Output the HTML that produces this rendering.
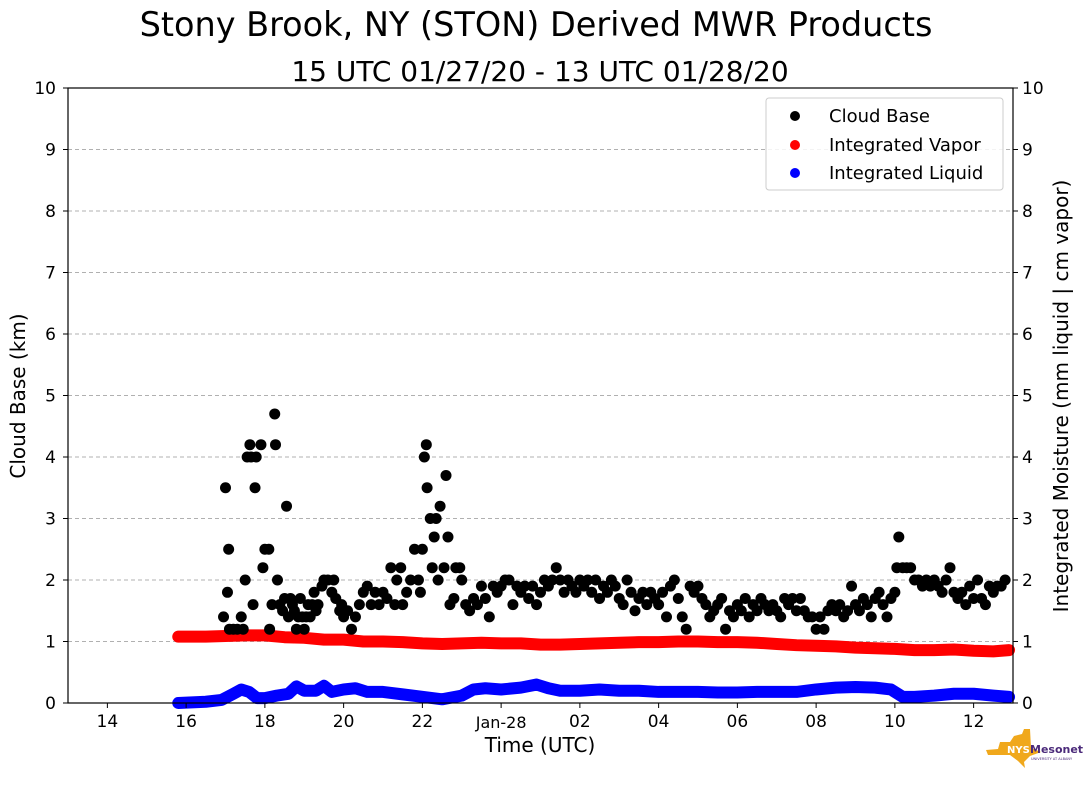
<!DOCTYPE html>
<html><head><meta charset="utf-8"><style>
body{margin:0;background:#fff;}
svg text{font-family:"DejaVu Sans","Liberation Sans",sans-serif;}
</style></head><body>
<svg id="chart" width="1089" height="804" xmlns="http://www.w3.org/2000/svg">
<text x="536" y="36" font-size="33.5" text-anchor="middle">Stony Brook, NY (STON) Derived MWR Products</text>
<text x="540" y="81" font-size="28" text-anchor="middle">15 UTC 01/27/20 - 13 UTC 01/28/20</text>
<g id="grid"></g>
<g id="series"></g>
<rect x="68" y="88" width="945" height="615" fill="none" stroke="#000" stroke-width="1.2"/>
<g id="axes"></g>
<text transform="translate(25,396) rotate(-90)" font-size="20" text-anchor="middle">Cloud Base (km)</text>
<text transform="translate(1068,396) rotate(-90)" font-size="20" text-anchor="middle">Integrated Moisture (mm liquid | cm vapor)</text>
<text x="540" y="752" font-size="20" text-anchor="middle">Time (UTC)</text>
<g>
<rect x="766" y="98" width="237" height="92" rx="3" fill="#fff" fill-opacity="0.85" stroke="#ccc"/>
<circle cx="795" cy="116" r="5" fill="#000"/><text x="829" y="122" font-size="18">Cloud Base</text>
<circle cx="795" cy="145" r="5" fill="#f00"/><text x="829" y="151" font-size="18">Integrated Vapor</text>
<circle cx="795" cy="173" r="5" fill="#00f"/><text x="829" y="179" font-size="18">Integrated Liquid</text>
</g>
<g>
<polygon points="1000,742 1010,742 1014,736 1022,734 1024,729 1030,729 1031,748 1041,752 1030,756 1024,762 1025,768 1018,761 1010,755 988,755 986,750 998,749" fill="#f0a81c"/>
<text x="1007" y="753" font-size="10" font-weight="bold" fill="#fff">NYS</text>
<text x="1030" y="753" font-size="11" font-weight="bold" fill="#4b2a7a">Mesonet</text>
<text x="1031" y="760" font-size="3.5" fill="#4b2a7a">UNIVERSITY AT ALBANY</text>
</g>
</svg>
<script>
const cbTimes=[16.95,17.0,17.05,17.08,17.1,17.2,17.3,17.4,17.45,17.5,17.55,17.62,17.65,17.7,17.75,17.78,17.9,17.95,18.0,18.1,18.12,18.18,18.25,18.27,18.32,18.38,18.45,18.5,18.55,18.6,18.65,18.7,18.75,18.8,18.85,18.9,18.95,19.0,19.05,19.1,19.15,19.2,19.25,19.3,19.35,19.45,19.5,19.6,19.7,19.75,19.8,19.9,19.95,20.0,20.1,20.2,20.3,20.4,20.5,20.6,20.7,20.8,20.9,21.0,21.1,21.2,21.3,21.35,21.45,21.5,21.6,21.7,21.8,21.9,21.95,22.0,22.05,22.1,22.12,22.2,22.25,22.3,22.35,22.4,22.45,22.55,22.6,22.65,22.7,22.8,22.85,22.95,23.0,23.1,23.2,23.3,23.4,23.5,23.6,23.7,23.8,23.9,24.0,24.1,24.2,24.3,24.4,24.5,24.6,24.7,24.8,24.9,25.0,25.1,25.2,25.3,25.4,25.5,25.6,25.7,25.8,25.9,26.0,26.1,26.2,26.3,26.4,26.5,26.6,26.7,26.8,26.9,27.0,27.1,27.2,27.3,27.4,27.5,27.6,27.7,27.8,27.9,28.0,28.1,28.2,28.3,28.4,28.5,28.6,28.7,28.8,28.9,29.0,29.1,29.2,29.3,29.4,29.5,29.6,29.7,29.8,29.9,30.0,30.1,30.2,30.3,30.4,30.5,30.6,30.7,30.8,30.9,31.0,31.1,31.2,31.3,31.4,31.5,31.6,31.7,31.8,31.9,32.0,32.1,32.2,32.3,32.4,32.5,32.6,32.7,32.8,32.9,33.0,33.1,33.2,33.3,33.4,33.5,33.6,33.7,33.8,33.9,34.0,34.05,34.1,34.2,34.3,34.4,34.5,34.6,34.7,34.8,34.9,35.0,35.1,35.2,35.3,35.4,35.5,35.6,35.7,35.8,35.9,36.0,36.1,36.2,36.3,36.4,36.5,36.6,36.7,36.8];
const cbValues=[1.4,3.5,1.8,2.5,1.2,1.2,1.2,1.4,1.2,2.0,4.0,4.2,4.0,1.6,3.5,4.0,4.2,2.2,2.5,2.5,1.2,1.6,4.7,4.2,2.0,1.6,1.5,1.7,3.2,1.4,1.7,1.6,1.5,1.2,1.4,1.7,1.4,1.2,1.4,1.6,1.4,1.6,1.8,1.5,1.6,1.9,2.0,2.0,1.8,2.0,1.7,1.5,1.6,1.4,1.5,1.2,1.4,1.6,1.8,1.9,1.6,1.8,1.6,1.8,1.7,2.2,1.6,2.0,2.2,1.6,1.8,2.0,2.5,2.0,1.8,2.5,4.0,4.2,3.5,3.0,2.2,2.7,3.0,2.0,3.2,2.2,3.7,2.7,1.6,1.7,2.2,2.2,2.0,1.6,1.5,1.7,1.6,1.9,1.7,1.4,1.9,1.8,1.9,2.0,2.0,1.6,1.9,1.8,1.9,1.7,1.9,1.6,1.8,2.0,1.9,2.0,2.2,2.0,1.8,2.0,1.9,1.8,2.0,1.9,2.0,1.8,2.0,1.7,1.9,1.8,2.0,1.9,1.7,1.6,2.0,1.8,1.5,1.7,1.8,1.6,1.8,1.7,1.6,1.8,1.4,1.9,2.0,1.7,1.4,1.2,1.9,1.8,1.9,1.7,1.6,1.4,1.5,1.6,1.7,1.2,1.5,1.4,1.6,1.5,1.7,1.4,1.6,1.5,1.7,1.6,1.5,1.6,1.5,1.4,1.7,1.6,1.7,1.5,1.7,1.5,1.4,1.4,1.2,1.4,1.2,1.5,1.6,1.5,1.6,1.4,1.5,1.9,1.6,1.5,1.7,1.6,1.4,1.7,1.8,1.6,1.4,1.7,1.8,2.2,2.7,2.2,2.2,2.2,2.0,2.0,1.9,2.0,1.9,2.0,1.9,1.8,2.0,2.2,1.8,1.7,1.8,1.6,1.9,1.7,2.0,1.7,1.6,1.9,1.8,1.9,1.9,2.0];
const vapTimes=[15.8,16.5,17,17.5,18,18.5,19,19.5,20,20.5,21,21.5,22,22.5,23,23.5,24,24.5,25,25.5,26,26.5,27,27.5,28,28.5,29,29.5,30,30.5,31,31.5,32,32.5,33,33.5,34,34.5,35,35.5,36,36.5,36.9];
const vapValues=[1.08,1.08,1.09,1.1,1.1,1.07,1.06,1.03,1.03,1.0,1.0,0.99,0.97,0.96,0.97,0.98,0.97,0.97,0.95,0.95,0.96,0.97,0.98,0.99,0.99,1.0,1.0,0.99,0.99,0.98,0.96,0.94,0.93,0.92,0.9,0.89,0.88,0.86,0.86,0.87,0.85,0.84,0.86];
const liqTimes=[15.8,16.5,16.9,17.2,17.4,17.6,17.8,18.0,18.3,18.6,18.8,19.0,19.3,19.5,19.7,20,20.3,20.6,21,21.5,22,22.5,23,23.3,23.6,24,24.5,24.9,25.2,25.5,26,26.5,27,27.5,28,28.5,29,29.5,30,30.5,31,31.5,32,32.5,33,33.5,33.9,34.2,34.5,35,35.5,36,36.5,36.9];
const liqValues=[0.0,0.02,0.05,0.15,0.22,0.18,0.08,0.08,0.12,0.15,0.27,0.2,0.2,0.28,0.18,0.22,0.24,0.18,0.18,0.14,0.1,0.06,0.12,0.22,0.24,0.22,0.25,0.3,0.24,0.2,0.2,0.22,0.2,0.2,0.18,0.18,0.18,0.17,0.17,0.18,0.18,0.18,0.22,0.25,0.26,0.25,0.22,0.1,0.1,0.12,0.15,0.15,0.12,0.1];
const xTickHours=[14,16,18,20,22,24,26,28,30,32,34,36];
const xTickLabels=["14","16","18","20","22","Jan-28","02","04","06","08","10","12"];
const yTicks=[0,1,2,3,4,5,6,7,8,9,10];

const NS="http://www.w3.org/2000/svg";
const X0=68,X1=1013,Y0=703,Y1=88,T0=13,T1=37,V0=0,V1=10;
function xs(t){return X0+(t-T0)/(T1-T0)*(X1-X0);}
function ys(v){return Y0-(v-V0)/(V1-V0)*(Y0-Y1);}
function mk(tag,attrs,parent){const e=document.createElementNS(NS,tag);for(const k in attrs)e.setAttribute(k,attrs[k]);parent.appendChild(e);return e;}
const grid=document.getElementById('grid'),axes=document.getElementById('axes'),series=document.getElementById('series');
yTicks.forEach(v=>{
  const y=ys(v);
  if(v>0&&v<10){const g=mk('line',{x1:X0,x2:X1,y1:y,y2:y,stroke:'#b0b0b0','stroke-dasharray':'4,3','stroke-width':1},grid);
  
  }
  mk('line',{x1:X0-5,x2:X0,y1:y,y2:y,stroke:'#000'},axes);
  mk('line',{x1:X1,x2:X1+5,y1:y,y2:y,stroke:'#000'},axes);
  const tl=mk('text',{x:X0-12,y:y+6,'font-size':17,'text-anchor':'end'},axes);tl.textContent=v;
  
  
  const tr=mk('text',{x:X1+9,y:y+6,'font-size':17},axes);tr.textContent=v;
  
  
});
xTickHours.forEach((h,i)=>{
  const x=xs(h);
  mk('line',{x1:x,x2:x,y1:Y0,y2:Y0+5,stroke:'#000'},axes);
  const t=mk('text',{x:x,y:Y0+(i===5?25:24),'font-size':i===5?16:17,'text-anchor':'middle'},axes);t.textContent=xTickLabels[i];
  
  
});
function band(times,vals,color,name){
  const p=mk('polyline',{points:times.map((t,i)=>xs(t)+','+ys(vals[i])).join(' '),fill:'none',stroke:color,'stroke-width':12,'stroke-linejoin':'round','stroke-linecap':'round'},series);
  
  
}
band(vapTimes,vapValues,'#f00','integrated-vapor-series');
band(liqTimes,liqValues,'#00f','integrated-liquid-series');
const cb=mk('g',{},series);


cbTimes.forEach((t,i)=>{
  const c=mk('circle',{cx:xs(t),cy:ys(cbValues[i]),r:5.5,fill:'#000'},cb);
  
  
});
</script>
</body></html>
